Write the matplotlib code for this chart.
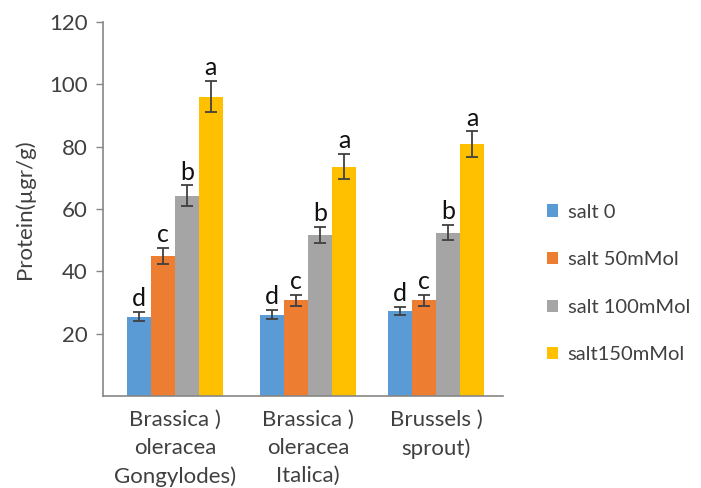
import numpy as np
import matplotlib
matplotlib.use("Agg")
import matplotlib.pyplot as plt

plt.rcParams['font.family'] = ['Lato', 'DejaVu Sans']

categories = ["Brassica )\noleracea\nGongylodes)", "Brassica )\noleracea\nItalica)", "Brussels )\nsprout)"]
series_names = ["salt 0", "salt 50mMol", "salt 100mMol", "salt150mMol"]
colors = ["#5B9BD5", "#ED7D31", "#A5A5A5", "#FFC000"]

salt0 = [25.5, 26.2, 27.3]
salt50 = [45.0, 30.8, 30.8]
salt100 = [64.3, 51.7, 52.5]
salt150 = [96.0, 73.6, 80.8]

err0 = [1.5, 1.4, 1.3]
err50 = [2.5, 1.8, 1.8]
err100 = [3.3, 2.5, 2.5]
err150 = [5.0, 4.0, 4.1]

letters0 = ["d", "d", "d"]
letters50 = ["c", "c", "c"]
letters100 = ["b", "b", "b"]
letters150 = ["a", "a", "a"]

values = [salt0, salt50, salt100, salt150]
errors = [err0, err50, err100, err150]
letters = [letters0, letters50, letters100, letters150]

fig = plt.figure(figsize=(7.01, 4.88), dpi=100)
ax = fig.add_axes([0.147, 0.188, 0.57, 0.767])

x = np.arange(len(categories))
width = 0.18
offsets = (np.arange(4) - 1.5) * width
shifts = [0.04, 0.04, 0.0]

for i in range(4):
    pos = x + offsets[i] + np.array(shifts)
    ax.bar(pos, values[i], width, color=colors[i], label=series_names[i], zorder=2)
    ax.errorbar(pos, values[i], yerr=errors[i], fmt='none', ecolor='#404040',
                elinewidth=1.3, capsize=4, capthick=1.3, zorder=3)
    for p, v, e, t in zip(pos, values[i], errors[i], letters[i]):
        ax.text(p, v + e + 0.6, t, ha='center', va='bottom', fontsize=18, color='#111111')

ax.set_xlim(-0.5, 2.5)
ax.set_ylim(0, 120)
ax.set_yticks([20, 40, 60, 80, 100, 120])
ax.set_xticks(x + np.array(shifts))
ax.set_xticklabels(categories, fontsize=16, color='#404040', linespacing=1.5)
ax.tick_params(axis='x', length=0, pad=10)
ax.tick_params(axis='y', labelsize=16, colors='#404040', length=5, direction='out', width=1, color='#868686', pad=6)

for s in ['top', 'right']:
    ax.spines[s].set_visible(False)
for s in ['left', 'bottom']:
    ax.spines[s].set_color('#868686')
    ax.spines[s].set_linewidth(1.2)

ax.set_ylabel("Protein(µgr/g)", fontsize=16, color='#404040', labelpad=10)

leg = fig.legend(loc='upper left', bbox_to_anchor=(0.755, 0.62), frameon=False,
                 fontsize=14.5, handlelength=0.55, handleheight=0.55,
                 handletextpad=0.45, labelspacing=1.52, labelcolor='#404040')

fig.savefig("out.png", dpi=100)
